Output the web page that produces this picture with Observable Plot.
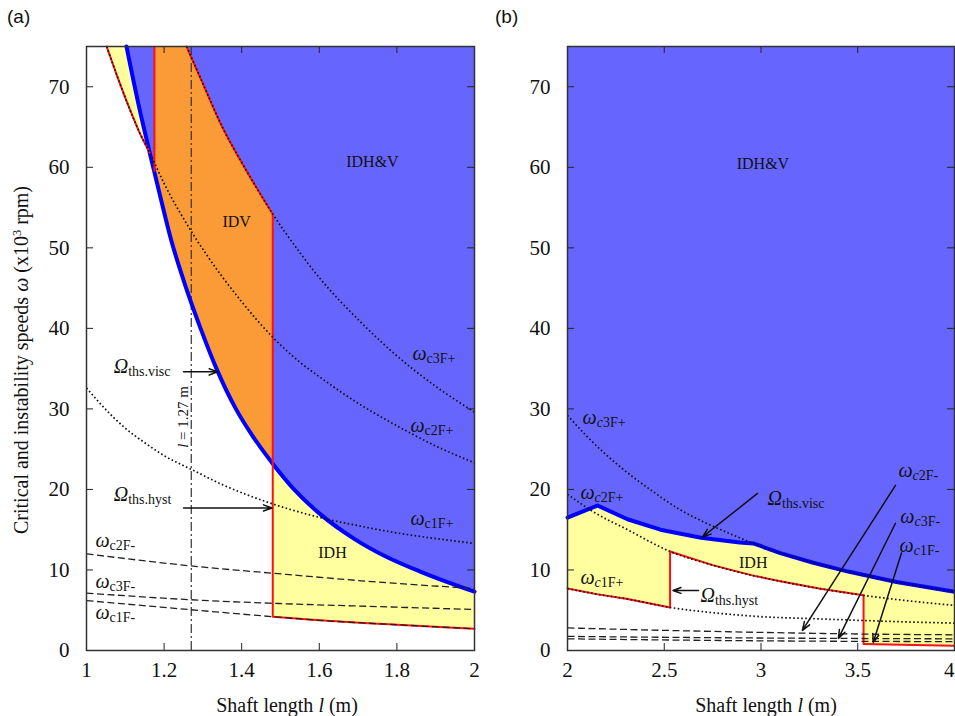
<!DOCTYPE html>
<html>
<head>
<meta charset="utf-8">
<script src="https://cdn.jsdelivr.net/npm/d3@7"></script>
<script src="https://cdn.jsdelivr.net/npm/@observablehq/plot@0.6"></script>
<style>
  body { margin: 0; background: #fff; }
  #fig { position: relative; width: 955px; height: 716px; overflow: hidden;
         font-family: "Liberation Serif", "Times New Roman", serif; color: #111; }
  .panel { position: absolute; top: 0; }
  .plab { position: absolute; top: 7px; font-family: "Liberation Sans", Arial, sans-serif; font-size: 19px; line-height: 1; }
  .xlab { position: absolute; top: 705px; font-size: 20px; line-height: 1; white-space: nowrap; transform: translate(-50%, -50%); }
  .ylab { position: absolute; left: 21px; top: 360px; font-size: 20px; line-height: 1; white-space: nowrap; transform: translate(-50%, -50%) rotate(-90deg); }
  sup { font-size: 0.62em; line-height: 0; vertical-align: 0.55em; }
</style>
</head>
<body>
<div id="fig">
  <div class="plab" style="left:7px">(a)</div>
  <div class="plab" style="left:495px">(b)</div>
  <div class="ylab">Critical and instability speeds <i>ω</i> (x10<sup>3</sup> rpm)</div>
  <div class="xlab" style="left:287px">Shaft length <i>l</i> (m)</div>
  <div class="xlab" style="left:766px">Shaft length <i>l</i> (m)</div>
</div>
<script>
// ---------------- ticks ----------------
const xTicksA = [1, 1.2, 1.4, 1.6, 1.8, 2];
const xTicksB = [2, 2.5, 3, 3.5, 4];
const yTicks = [0, 10, 20, 30, 40, 50, 60, 70];
const yTop = 75;

// ---------------- panel (a) curves (l in m, ω in 10^3 rpm) ----------------
const viscA_l = [1.103, 1.135, 1.163, 1.175, 1.19, 1.218, 1.25, 1.294, 1.335, 1.385, 1.43, 1.48, 1.535, 1.603, 1.689, 1.77, 1.86, 1.93, 2.0];
const viscA_w = [75, 67.6, 61.8, 59.4, 56.4, 51, 46, 40, 35, 30, 26.5, 23.2, 20, 16.9, 13.9, 11.7, 9.8, 8.5, 7.3];
const c1pA_l = [1, 1.05, 1.1, 1.15, 1.2, 1.27, 1.35, 1.48, 1.603, 1.7, 1.8, 1.9, 2];
const c1pA_w = [32.6, 29.9, 27.6, 25.8, 24.2, 22.5, 20.6, 18.2, 16.5, 15.5, 14.6, 13.9, 13.3];
const c2pA_l = [1.052, 1.08, 1.11, 1.135, 1.163, 1.2, 1.276, 1.35, 1.4, 1.48, 1.55, 1.6, 1.7, 1.8, 1.9, 2.0];
const c2pA_w = [75, 71.2, 67.4, 64.5, 61.8, 58, 51.6, 46.4, 43.3, 38.9, 35.8, 34.0, 30.7, 27.9, 25.4, 23.3];
const c3pA_l = [1.258, 1.3, 1.35, 1.4, 1.48, 1.55, 1.6, 1.7, 1.79, 1.9, 2.0];
const c3pA_w = [75, 70.4, 65, 60.6, 54.2, 49.4, 46.3, 41.1, 37, 32.8, 29.6];
const c1mA_l = [1, 1.27, 1.48, 1.6, 1.8, 2];
const c1mA_w = [6.2, 5.06, 4.2, 3.75, 3.2, 2.7];
const c2mA_l = [1, 1.27, 1.515, 1.75, 2];
const c2mA_w = [12.0, 10.5, 9.45, 8.5, 7.7];
const c3mA_l = [1, 1.27, 1.515, 1.75, 2];
const c3mA_w = [7.13, 6.3, 5.8, 5.45, 5.1];
const crossA = 1.163;            // ω_c2F+ meets Ω_ths.visc
const stepsA = [1.175, 1.48];    // red vertical boundaries
const lineA = 1.27;              // dash-dot reference length

// ---------------- panel (b) curves ----------------
const viscB_l = [2, 2.155, 2.31, 2.48, 2.69, 2.89, 2.96, 3.1, 3.27, 3.45, 3.7, 4];
const viscB_w = [16.5, 18.0, 16.3, 15.0, 14.0, 13.4, 13.3, 12.1, 10.9, 9.8, 8.5, 7.3];
const c3pB_l = [2, 2.1, 2.2, 2.33, 2.45, 2.58, 2.7, 2.84, 2.96, 3.1, 3.27, 3.45, 3.7, 4];
const c3pB_w = [29.2, 26.6, 24.3, 21.7, 19.6, 17.5, 16.0, 14.5, 13.3, 12.1, 10.9, 9.8, 8.5, 7.3];
const c2pB_l = [2, 2.135, 2.31, 2.53, 2.75, 2.96, 3.1, 3.3, 3.53, 3.75, 4];
const c2pB_w = [19.4, 17.2, 15.0, 12.3, 10.6, 9.3, 8.6, 7.7, 6.85, 6.2, 5.6];
const c1pB_l = [2, 2.15, 2.31, 2.53, 2.75, 3, 3.27, 3.5, 3.75, 4];
const c1pB_w = [7.7, 7.0, 6.4, 5.35, 4.7, 4.2, 3.95, 3.75, 3.55, 3.4];
const c2mB_l = [2, 2.5, 3, 3.5, 4];
const c2mB_w = [2.8, 2.5, 2.25, 2.05, 1.95];
const c3mB_l = [2, 3, 4];
const c3mB_w = [1.75, 1.55, 1.45];
const c1mB_l = [2, 3, 4];
const c1mB_w = [1.45, 1.2, 1.1];
const hystB_l = [3.53, 4];
const hystB_w = [0.8, 0.6];
const stepsB = [2.53, 3.53];

// ---------------- annotations ----------------
const regionA = [{l: 1.737, w: 60.7, t: "IDH&V"}, {l: 1.387, w: 53.2, t: "IDV"}, {l: 1.634, w: 12.1, t: "IDH"}];
const regionB = [{l: 3.01, w: 60.4, t: "IDH&V"}, {l: 2.96, w: 10.9, t: "IDH"}];
const symA = [
  {l: 1.840, w: 36.9, m: "ω", s: "c3F+"},
  {l: 1.835, w: 27.9, m: "ω", s: "c2F+"},
  {l: 1.835, w: 16.4, m: "ω", s: "c1F+"},
  {l: 1.023, w: 13.6, m: "ω", s: "c2F-"},
  {l: 1.023, w: 8.5, m: "ω", s: "c3F-"},
  {l: 1.023, w: 4.7, m: "ω", s: "c1F-"},
  {l: 1.070, w: 35.2, m: "Ω", s: "ths.visc"},
  {l: 1.070, w: 19.3, m: "Ω", s: "ths.hyst"}
];
const symB = [
  {l: 2.078, w: 28.9, m: "ω", s: "c3F+"},
  {l: 2.067, w: 19.6, m: "ω", s: "c2F+"},
  {l: 2.067, w: 9.0, m: "ω", s: "c1F+"},
  {l: 3.034, w: 18.9, m: "Ω", s: "ths.visc"},
  {l: 2.687, w: 6.8, m: "Ω", s: "ths.hyst"},
  {l: 3.71, w: 22.3, m: "ω", s: "c2F-"},
  {l: 3.72, w: 16.6, m: "ω", s: "c3F-"},
  {l: 3.716, w: 13.0, m: "ω", s: "c1F-"}
];
const rotA = [{l: 1.249, w: 29.0, a: "l", b: " = 1.27 m"}];
const arrowsA = [
  {l1: 1.25, w1: 34.6, l2: 1.338, w2: 34.6},
  {l1: 1.25, w1: 17.7, l2: 1.478, w2: 17.7}
];
const arrowsB = [
  {l1: 2.982, w1: 19.5, l2: 2.698, w2: 14.1},
  {l1: 2.677, w1: 7.46, l2: 2.545, w2: 7.46},
  {l1: 3.695, w1: 20.5, l2: 3.214, w2: 2.5},
  {l1: 3.695, w1: 15.8, l2: 3.40, w2: 1.5},
  {l1: 3.726, w1: 12.1, l2: 3.58, w2: 1.0}
];

// ---------------- styling ----------------
const SERIF = '"Liberation Serif", "Times New Roman", serif';
const C = {blueFill: "#6666ff", orange: "#fa9b37", yellow: "#ffffa0", blueLine: "#0000ff", red: "#ff1010", ink: "#111"};
const dotted = {stroke: "#111", strokeWidth: 1.7, strokeDasharray: "1.6,2.4", strokeLinecap: "butt", curve: "monotone-x"};
const dashed = {stroke: "#222", strokeWidth: 1.3, strokeDasharray: "7,3.5", strokeLinecap: "butt", curve: "monotone-x"};

// ---------------- helpers ----------------
const P = (ls, ws) => ls.map((l, i) => ({l, w: ws[i]}));
const seg = (pts, a, b) => pts.filter(d => d.l >= a - 1e-9 && d.l <= b + 1e-9);
const val = (pts, l) => pts.find(d => Math.abs(d.l - l) < 1e-9).w;
const group = arr => arr.flatMap((pts, k) => pts.map(d => ({...d, k})));
const poly = (pts, fill) => Plot.line(pts, {x: "l", y: "w", fill, stroke: "none"});

// inward (mirrored) ticks on all four sides of the frame
function innerTicks(xd, xt, pw, ph) {
  const s = {stroke: "#222", strokeWidth: 1};
  return [
    Plot.ruleY(yTicks, {x1: xd[0], x2: xd[1], insetRight: pw - 7, ...s}),
    Plot.ruleY(yTicks, {x1: xd[0], x2: xd[1], insetLeft: pw - 7, ...s}),
    Plot.ruleX(xt, {y1: yTop, y2: 0, insetTop: ph - 7, ...s}),
    Plot.ruleX(xt, {y1: yTop, y2: 0, insetBottom: ph - 7, ...s})
  ];
}

function rich(svg, idx, data, build) {
  const g = svg.querySelectorAll('g[aria-label="text"]')[idx];
  if (!g) return;
  g.querySelectorAll("text").forEach((t, i) => {
    const d = data[i];
    if (!d) return;
    t.textContent = "";
    for (const p of build(d)) {
      const ts = document.createElementNS("http://www.w3.org/2000/svg", "tspan");
      ts.textContent = p.t;
      if (p.it) ts.setAttribute("font-style", "italic");
      if (p.size) ts.setAttribute("font-size", p.size);
      if (p.dy) ts.setAttribute("dy", p.dy);
      t.appendChild(ts);
    }
  });
}

const styleBase = {fontFamily: SERIF, fontSize: "21px", background: "transparent", overflow: "visible", color: "#111"};
const H = 716, MT = 46, MB = 66, PH = H - MT - MB;
const axisText = {tickSize: 0, fontSize: 21, label: null};

// ---------------- panel (a) ----------------
const viscA = P(viscA_l, viscA_w), c1pA = P(c1pA_l, c1pA_w), c2pA = P(c2pA_l, c2pA_w), c3pA = P(c3pA_l, c3pA_w);
const c1mA = P(c1mA_l, c1mA_w), c2mA = P(c2mA_l, c2mA_w), c3mA = P(c3mA_l, c3mA_w);
const xdA = [xTicksA[0], xTicksA[xTicksA.length - 1]];
const [sA1, sA2] = stepsA;
const yellowTopA = [...seg(c2pA, xdA[0], crossA), ...seg(viscA, xdA[0], crossA).reverse()];
const blueA = [...viscA, {l: xdA[1], w: yTop}];
const orangeA = [{l: sA1, w: yTop}, ...seg(c3pA, sA1, sA2), ...seg(viscA, sA1, sA2).reverse()];
const idhA = [...seg(viscA, sA2, xdA[1]), ...seg(c1mA, sA2, xdA[1]).reverse()];
const redCurvesA = group([seg(c2pA, xdA[0], crossA), seg(c3pA, sA1, sA2), seg(c1mA, sA2, xdA[1])]);
const redRulesA = [{l: sA1, w1: val(viscA, sA1), w2: yTop}, {l: sA2, w1: val(c1mA, sA2), w2: val(c3pA, sA2)}];

const WA = 477, MLA = 86, MRA = 3, PWA = WA - MLA - MRA;
const plotA = Plot.plot({
  width: WA, height: H, marginLeft: MLA, marginRight: MRA, marginTop: MT, marginBottom: MB,
  x: {domain: xdA, label: null},
  y: {domain: [0, yTop], label: null},
  style: styleBase,
  marks: [
    poly(yellowTopA, C.yellow),
    poly(blueA, C.blueFill),
    poly(orangeA, C.orange),
    poly(idhA, C.yellow),
    Plot.ruleX([lineA], {stroke: "#333", strokeWidth: 1.2, strokeDasharray: "9,3,2,3"}),
    Plot.line(viscA, {x: "l", y: "w", stroke: C.blueLine, strokeWidth: 4, curve: "monotone-x"}),
    Plot.line(redCurvesA, {x: "l", y: "w", z: "k", stroke: C.red, strokeWidth: 2, curve: "monotone-x"}),
    Plot.ruleX(redRulesA, {x: "l", y1: "w1", y2: "w2", stroke: C.red, strokeWidth: 2}),
    Plot.line(group([c1pA, c2pA, c3pA]), {x: "l", y: "w", z: "k", ...dotted}),
    Plot.line(group([c2mA, c3mA, c1mA]), {x: "l", y: "w", z: "k", ...dashed}),
    Plot.arrow(arrowsA, {x1: "l1", y1: "w1", x2: "l2", y2: "w2", stroke: C.ink, strokeWidth: 1.5, headLength: 9, headAngle: 40}),
    Plot.text(regionA, {x: "l", y: "w", text: "t", fontSize: 16, fill: C.ink}),
    Plot.text(symA, {x: "l", y: "w", text: d => d.m + d.s, textAnchor: "start", fontSize: 20, fill: C.ink}),
    Plot.text(rotA, {x: "l", y: "w", text: d => d.a + d.b, rotate: -90, fontSize: 15, fill: C.ink}),
    ...innerTicks(xdA, xTicksA, PWA, PH),
    Plot.axisY(yTicks, {anchor: "left", tickPadding: 17, ...axisText}),
    Plot.axisX(xTicksA, {anchor: "bottom", tickPadding: 12, tickFormat: d => String(d), ...axisText}),
    Plot.frame({stroke: "#333", strokeWidth: 1.5})
  ]
});
rich(plotA, 1, symA, d => [{t: d.m, it: true}, {t: d.s, size: 14, dy: 3}]);
rich(plotA, 2, rotA, d => [{t: d.a, it: true}, {t: d.b}]);

// ---------------- panel (b) ----------------
const viscB = P(viscB_l, viscB_w), c1pB = P(c1pB_l, c1pB_w), c2pB = P(c2pB_l, c2pB_w), c3pB = P(c3pB_l, c3pB_w);
const c1mB = P(c1mB_l, c1mB_w), c2mB = P(c2mB_l, c2mB_w), c3mB = P(c3mB_l, c3mB_w), hystB = P(hystB_l, hystB_w);
const xdB = [xTicksB[0], xTicksB[xTicksB.length - 1]];
const [sB1, sB2] = stepsB;
const blueB = [...viscB, {l: xdB[1], w: yTop}, {l: xdB[0], w: yTop}];
const yellowB = [...viscB, ...hystB.slice().reverse(), ...seg(c2pB, sB1, sB2).reverse(), ...seg(c1pB, xdB[0], sB1).reverse()];
const redCurvesB = group([seg(c1pB, xdB[0], sB1), seg(c2pB, sB1, sB2), hystB]);
const redRulesB = [{l: sB1, w1: val(c1pB, sB1), w2: val(c2pB, sB1)}, {l: sB2, w1: val(hystB, sB2), w2: val(c2pB, sB2)}];

const WB = 478, MLB = 90, MRB = 1, PWB = WB - MLB - MRB;
const plotB = Plot.plot({
  width: WB, height: H, marginLeft: MLB, marginRight: MRB, marginTop: MT, marginBottom: MB,
  x: {domain: xdB, label: null},
  y: {domain: [0, yTop], label: null},
  style: styleBase,
  marks: [
    poly(blueB, C.blueFill),
    poly(yellowB, C.yellow),
    Plot.line(viscB, {x: "l", y: "w", stroke: C.blueLine, strokeWidth: 4}),
    Plot.line(redCurvesB, {x: "l", y: "w", z: "k", stroke: C.red, strokeWidth: 2}),
    Plot.ruleX(redRulesB, {x: "l", y1: "w1", y2: "w2", stroke: C.red, strokeWidth: 2}),
    Plot.line(group([c1pB, c2pB, c3pB]), {x: "l", y: "w", z: "k", ...dotted}),
    Plot.line(group([c2mB, c3mB, c1mB]), {x: "l", y: "w", z: "k", ...dashed}),
    Plot.arrow(arrowsB, {x1: "l1", y1: "w1", x2: "l2", y2: "w2", stroke: C.ink, strokeWidth: 1.5, headLength: 9, headAngle: 40}),
    Plot.text(regionB, {x: "l", y: "w", text: "t", fontSize: 16, fill: C.ink}),
    Plot.text(symB, {x: "l", y: "w", text: d => d.m + d.s, textAnchor: "start", fontSize: 20, fill: C.ink}),
    ...innerTicks(xdB, xTicksB, PWB, PH),
    Plot.axisY(yTicks, {anchor: "left", tickPadding: 17, ...axisText}),
    Plot.axisX(xTicksB.slice(0, -1), {anchor: "bottom", tickPadding: 12, tickFormat: d => String(d), ...axisText}),
    // last tick label kept inside the page edge
    Plot.axisX(xTicksB.slice(-1), {anchor: "bottom", tickPadding: 12, tickFormat: d => String(d), textAnchor: "end", ...axisText}),
    Plot.frame({stroke: "#333", strokeWidth: 1.5})
  ]
});
rich(plotB, 1, symB, d => d.m === "ω"
  ? [{t: d.m, it: true}, {t: d.s[0], it: true, size: 14, dy: 3}, {t: d.s.slice(1), size: 14}]
  : [{t: d.m, it: true}, {t: d.s, size: 14, dy: 3}]);

// ---------------- assemble ----------------
const fig = document.getElementById("fig");
const wrapA = document.createElement("div"); wrapA.className = "panel"; wrapA.style.left = "0px"; wrapA.appendChild(plotA);
const wrapB = document.createElement("div"); wrapB.className = "panel"; wrapB.style.left = WA + "px"; wrapB.appendChild(plotB);
fig.insertBefore(wrapB, fig.firstChild);
fig.insertBefore(wrapA, fig.firstChild);
</script>
</body>
</html>
